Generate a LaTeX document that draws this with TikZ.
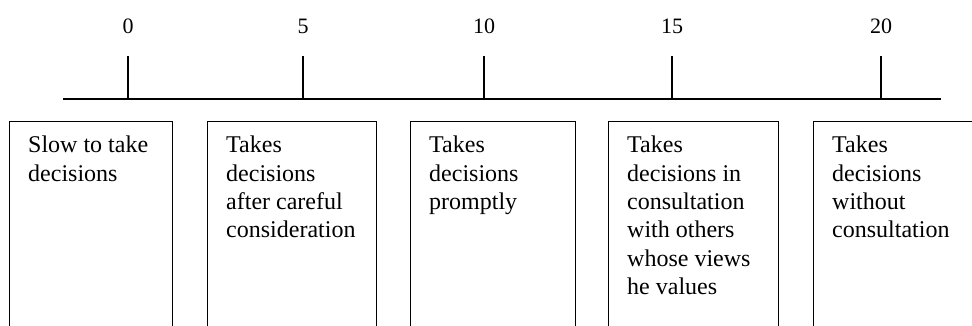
\documentclass[tikz,border=0pt]{standalone}
\usepackage{fontspec}
\setmainfont{Liberation Serif}
\begin{document}
\begin{tikzpicture}[x=1pt,y=-1pt,
  rule/.style={line width=1.3pt},
  boxframe/.style={draw,line width=1.3pt,anchor=north west,inner sep=0pt,minimum height=230pt},
  boxtext/.style={anchor=north west,inner sep=0pt,align=left,font=\fontsize{24}{28.3}\selectfont},
  num/.style={anchor=base,inner sep=0pt,font=\fontsize{22}{26}\selectfont}]
\useasboundingbox (0,0) rectangle (972,325);
\clip (0,0) rectangle (972,325);
% axis
\coordinate (axL) at (63,99);
\coordinate (axR) at (941,99);
\draw[rule] (axL) -- (axR);
\foreach \x/\n/\lab in {128/t0/0, 303/t5/5, 484/t10/10, 672/t15/15, 881/t20/20}{
  \coordinate (\n b) at (\x,99);
  \coordinate (\n a) at (\x,56);
  \draw[rule] (\n a) -- (\n b);
  \node[num] (\n l) at (\x,33) {\lab};
}
% boxes
\node[boxframe,minimum width=163pt] (b1) at (9,121) {};
\node[boxframe,minimum width=169pt] (b2) at (207,121) {};
\node[boxframe,minimum width=165pt] (b3) at (410,121) {};
\node[boxframe,minimum width=170pt] (b4) at (608,121) {};
\node[boxframe,minimum width=200pt] (b5) at (813,121) {};
\node[boxtext] (x1) at (28,136) {Slow to take\\decisions};
\node[boxtext] (x2) at (226,136) {Takes\\decisions\\after careful\\consideration};
\node[boxtext] (x3) at (429,136) {Takes\\decisions\\promptly};
\node[boxtext] (x4) at (627,136) {Takes\\decisions in\\consultation\\with others\\whose views\\he values};
\node[boxtext] (x5) at (832,136) {Takes\\decisions\\without\\consultation};
\end{tikzpicture}
\end{document}
